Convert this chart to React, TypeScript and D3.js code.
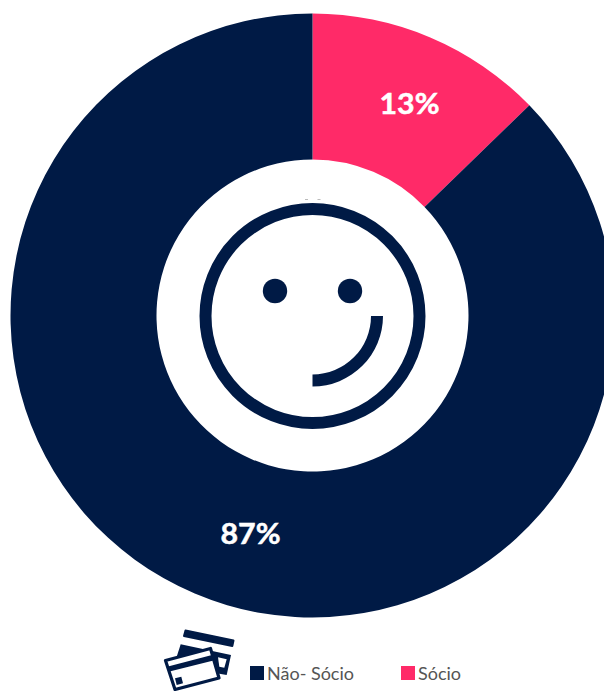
import * as d3 from 'd3';

const categories = ['Sócio', 'Não- Sócio'];
const shares = [12.75, 87.25];
const pctLabels = ['13%', '87%'];
const colors = ['#ff2a68', '#001a45'];
const legendOrder = ['Não- Sócio', 'Sócio'];

const width = 604;
const height = 691;
const cx = 312.5;
const cy = 315.5;
const outerR = 302;
const innerR = 156;
const navy = '#001a45';
const font = 'Lato, "Open Sans", sans-serif';

function Smiley() {
  const smile = d3.arc()({
    innerRadius: 58.5,
    outerRadius: 70.5,
    startAngle: Math.PI / 2,
    endAngle: Math.PI,
  }) as string;
  return (
    <g transform={`translate(${cx},316)`}>
      <circle r={107} fill="none" stroke={navy} strokeWidth={12} />
      <circle cx={-37.5} cy={-25} r={12.2} fill={navy} />
      <circle cx={37.5} cy={-25} r={12.2} fill={navy} />
      <path d={smile} fill={navy} />
      {/* two faint specks above the face in the original */}
      <rect x={-7.5} y={-117} width={3} height={1} fill="#bbb" />
      <rect x={5} y={-117} width={3} height={1} fill="#bbb" />
    </g>
  );
}

function CardIcon() {
  return (
    <g>
      {/* back card */}
      <path
        d="M185.500 630.500 L233.500 640.500 L232.300 646 L184 636 Z"
        fill={navy}
        stroke={navy}
        strokeWidth={2}
        strokeLinejoin="round"
      />
      <path d="M180.700 644.300 L231 655 L226.700 675 L215 673 L175 662 Z" fill={navy} />
      <path d="M218 657.300 L226.700 659.300 L224.300 667.700 L219.300 666.700 Z" fill="#fff" />
      {/* front card */}
      <path
        d="M165.500 660.500 L210.500 648.500 L219 678 L175 689.500 Z"
        fill="#fff"
        stroke={navy}
        strokeWidth={3.2}
        strokeLinejoin="round"
      />
      <path d="M168 666.500 L212 655 L213.500 660.500 L169.500 671.500 Z" fill={navy} />
      <path d="M175 678.300 L181.300 676.700 L183 683.300 L176.700 685 Z" fill={navy} />
    </g>
  );
}

export default function App() {
  const pie = d3.pie<number>().sort(null).value((d) => d);
  const arc = d3.arc<d3.PieArcDatum<number>>().innerRadius(innerR).outerRadius(outerR);
  const arcs = pie(shares);

  const legendX = d3.scaleOrdinal<string, number>().domain(legendOrder).range([250, 401]);
  const colorOf = d3.scaleOrdinal<string, string>().domain(categories).range(colors);

  // label spots
  const labelAt = [
    { x: 409.5, y: 103 },
    { x: 250.5, y: 533 },
  ];

  return (
    <svg
      width={width}
      height={height}
      style={{ position: 'absolute', left: 0, top: 0, fontFamily: font, background: '#fff' }}
    >
      <g transform={`translate(${cx},${cy})`}>
        {arcs.map((a, i) => (
          <path key={categories[i]} d={arc(a) as string} fill={colors[i]} />
        ))}
      </g>
      {pctLabels.map((t, i) => (
        <text
          key={t}
          x={labelAt[i].x}
          y={labelAt[i].y}
          textAnchor="middle"
          dominantBaseline="central"
          fill="#fff"
          stroke="#fff"
          strokeWidth={0.5}
          fontSize={28}
          fontWeight={700}
          textLength={60}
          lengthAdjust="spacingAndGlyphs"
        >
          {t}
        </text>
      ))}
      <Smiley />
      <CardIcon />
      {legendOrder.map((name) => (
        <g key={name} transform={`translate(${legendX(name)},666)`}>
          <rect width={14} height={14} fill={colorOf(name)} />
          <text x={17} y={14} fontSize={18} fill="#555" fontWeight={400}>
            {name}
          </text>
        </g>
      ))}
    </svg>
  );
}
